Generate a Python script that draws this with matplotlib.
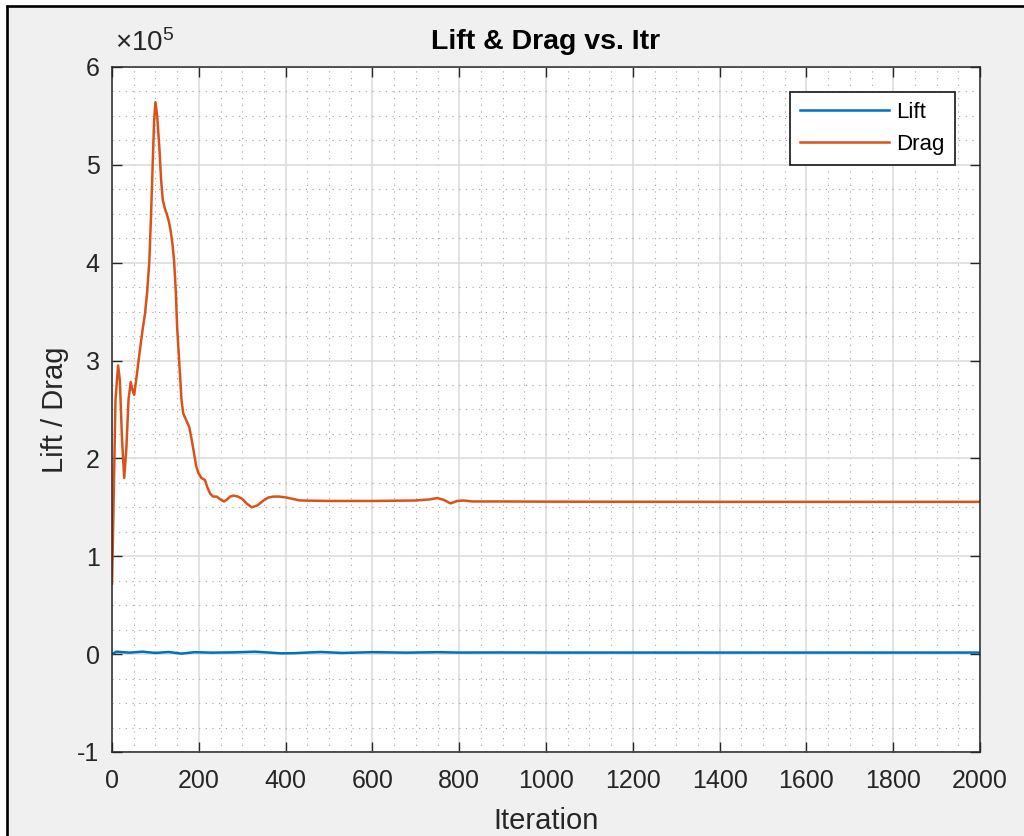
import matplotlib.pyplot as plt
from matplotlib.ticker import FuncFormatter, MultipleLocator
from matplotlib.lines import Line2D
from matplotlib.patches import Rectangle

plt.rcParams['font.family'] = ['Liberation Sans', 'DejaVu Sans']
plt.rcParams['mathtext.fontset'] = 'custom'
plt.rcParams['mathtext.rm'] = 'Liberation Sans'

# iteration samples and force history
drag_itr = [0, 3, 8, 14, 18, 23, 28, 33, 38, 43, 47, 51, 57, 64, 70, 76, 81, 86, 90, 94,
            97, 100, 104, 109, 113, 117, 122, 126, 131, 135, 139, 143, 147, 150, 154, 157,
            160, 164, 170, 178, 184, 189, 194, 199, 206, 214, 220, 226, 233, 241, 250, 258,
            265, 272, 280, 290, 299, 310, 322, 335, 349, 360, 372, 385, 402, 433, 500, 600,
            700, 730, 750, 765, 780, 795, 810, 830, 900, 1000, 1400, 2000]
drag = [72000, 140000, 260000, 295000, 280000, 220000, 180000, 210000, 260000, 278000,
        270000, 265000, 285000, 310000, 330000, 348000, 370000, 402000, 450000, 505000,
        545000, 564000, 550000, 518000, 485000, 464000, 455000, 450000, 442000, 433000,
        420000, 402000, 370000, 334000, 305000, 283000, 260000, 246000, 240000, 232000,
        218000, 205000, 192000, 185000, 180000, 178000, 170000, 164000, 161000, 161000,
        158000, 156000, 158000, 161000, 162000, 161000, 159000, 154000, 150000, 152000,
        157000, 160000, 161000, 161000, 160000, 157000, 156500, 156500, 157000, 158000,
        159500, 157500, 154000, 156500, 157000, 156000, 156000, 155800, 155600, 155600]

lift_itr = [0, 10, 40, 70, 100, 130, 160, 190, 230, 280, 330, 390, 420, 480, 530, 600,
            680, 750, 800, 900, 1000, 1200, 1500, 1800, 2000]
lift = [0, 2500, 1500, 2500, 1200, 2200, 500, 2000, 1500, 1800, 2500, 800, 1000, 2200,
        1200, 2000, 1500, 2000, 1600, 1700, 1600, 1600, 1600, 1600, 1600]

fig = plt.figure(figsize=(10.24, 8.36), dpi=100, facecolor='#f0f0f0')
ax = fig.add_axes([0.1094, 0.1005, 0.8477, 0.8194])

ax.plot(lift_itr, lift, color='#0072BD', lw=1.8, label='Lift')
ax.plot(drag_itr, drag, color='#D95319', lw=1.8, label='Drag')

ax.set_xlim(0, 2000)
ax.set_ylim(-1e5, 6e5)
ax.xaxis.set_major_locator(MultipleLocator(200))
ax.xaxis.set_minor_locator(MultipleLocator(50))
ax.yaxis.set_major_locator(MultipleLocator(1e5))
ax.yaxis.set_minor_locator(MultipleLocator(0.25e5))
ax.yaxis.set_major_formatter(FuncFormatter(lambda v, p: f'{v/1e5:g}'))

ax.grid(which='major', color='#dadada', lw=1.1, ls='-')
ax.grid(which='minor', color='#a0a0a0', lw=0.8, ls=(0, (1, 5)))
ax.set_axisbelow(True)

ax.tick_params(which='major', direction='in', length=7, width=1, top=True, right=True,
               labelsize=18, colors='#262626')
ax.tick_params(axis='x', pad=12)
ax.tick_params(axis='y', pad=9)
ax.tick_params(which='minor', length=0)
for s in ax.spines.values():
    s.set_color('#262626')
    s.set_linewidth(1.1)

ax.set_xlabel('Iteration', fontsize=21, color='#262626', labelpad=10)
ax.set_ylabel('Lift / Drag', fontsize=21, color='#262626', labelpad=6)
ax.set_title('Lift & Drag vs. Itr', fontsize=20.5, fontweight='bold', color='black', pad=13)
ax.text(0.004, 1.024, r'$\mathregular{\times10^{5}}$', transform=ax.transAxes,
        fontsize=20, color='#262626', ha='left', va='baseline')

leg = ax.legend(loc='upper right', bbox_to_anchor=(0.971, 0.964), fontsize=16,
                handlelength=4.0, fancybox=False, framealpha=1, edgecolor='#262626',
                borderpad=0.45, labelspacing=0.5, handletextpad=0.35, borderaxespad=0)
leg.get_frame().set_linewidth(1.3)

# screenshot frame: white margin plus thin black border on top and left
fig.add_artist(Rectangle((0, 0), 5.5 / 1024, 1, transform=fig.transFigure,
                         facecolor='white', edgecolor='none'))
fig.add_artist(Rectangle((0, 1 - 5 / 836), 1, 5 / 836, transform=fig.transFigure,
                         facecolor='white', edgecolor='none'))
fig.add_artist(Line2D([6.8 / 1024, 6.8 / 1024], [0, 1 - 5 / 836], transform=fig.transFigure,
                      color='black', lw=1.9, solid_capstyle='butt'))
fig.add_artist(Line2D([5.5 / 1024, 1], [1 - 6.3 / 836, 1 - 6.3 / 836], transform=fig.transFigure,
                      color='black', lw=1.9, solid_capstyle='butt'))

fig.savefig('out.png', dpi=100, facecolor=fig.get_facecolor())
